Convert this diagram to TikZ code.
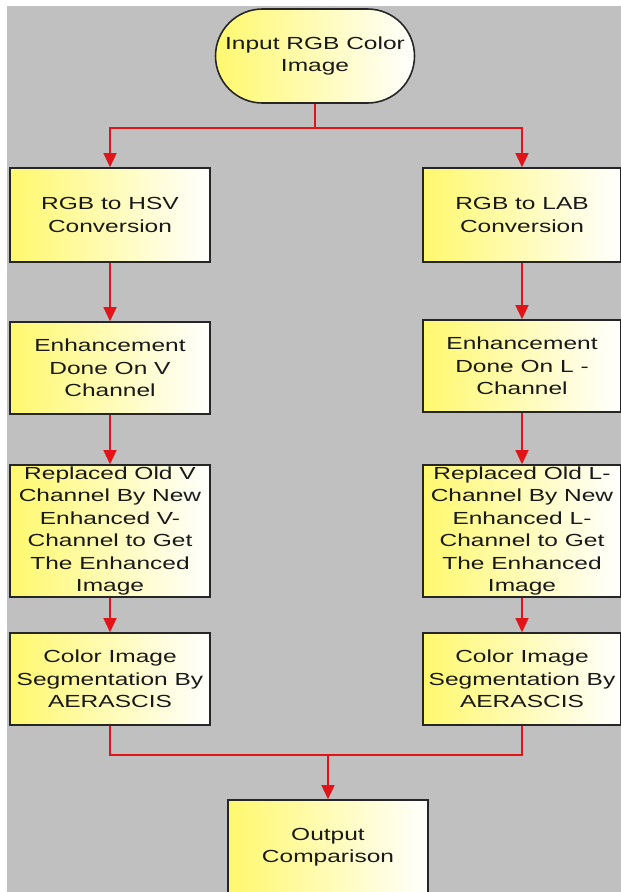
\documentclass[tikz,border=0pt]{standalone}
\usepackage{fontspec}
\setmainfont{Liberation Sans}[FakeStretch=1.4]
\usetikzlibrary{arrows.meta,shapes.misc}

\definecolor{panelgrey}{RGB}{192,192,192}
\definecolor{boxyellow}{RGB}{255,248,110}
\definecolor{flowred}{RGB}{225,20,25}

\begin{document}
\begin{tikzpicture}[x=1pt,y=-1pt,
	stepbox/.style={draw=black!85,line width=1.6pt,left color=boxyellow,right color=white,
	  minimum width=200pt,align=center,inner sep=0pt,text=black!90,
	  font=\fontsize{17.5}{22.5}\selectfont},
	startbox/.style={stepbox,rounded rectangle,minimum width=199pt,minimum height=94pt},
	flow/.style={flowred,line width=1.3pt},
	flowarrow/.style={flow,-{Triangle[width=13pt,length=14pt]}}]

	\clip (0,0) rectangle (621,892);
	\fill[white] (0,0) rectangle (621,892);
	\fill[panelgrey] (7,6) rectangle (621,892);

	% start
	\node[startbox] (start) at (315,56) {Input RGB Color\\Image};

	% left column
	\node[stepbox,minimum height=94pt] (hsv) at (110,215) {RGB to HSV\\Conversion};
	\node[stepbox,minimum height=92pt] (enhv) at (110,368) {Enhancement\\Done On V\\Channel};
	\node[stepbox,minimum height=132pt] (repv) at (110,531) {Replaced Old V\\Channel By New\\Enhanced V-\\Channel to Get\\The Enhanced\\Image};
	\node[stepbox,minimum height=92pt] (segv) at (110,679) {Color Image\\Segmentation By\\AERASCIS};

	% right column
	\node[stepbox,minimum width=198pt,minimum height=94pt] (lab) at (522,215) {RGB to LAB\\Conversion};
	\node[stepbox,minimum width=198pt,minimum height=92pt] (enhl) at (522,366) {Enhancement\\Done On L -\\Channel};
	\node[stepbox,minimum width=198pt,minimum height=132pt] (repl) at (522,531) {Replaced Old L-\\Channel By New\\Enhanced L-\\Channel to Get\\The Enhanced\\Image};
	\node[stepbox,minimum width=198pt,minimum height=92pt] (segl) at (522,679) {Color Image\\Segmentation By\\AERASCIS};

	% end
	\node[stepbox,minimum height=94pt] (out) at (328,847) {Output\\Comparison};

	\coordinate (split) at (315,128);
	\coordinate (join) at (328,755);

	% connectors
	\draw[flow] (start.south) -- (split);
	\draw[flowarrow] (split) -| (hsv.north);
	\draw[flowarrow] (split) -| (lab.north);
	\draw[flowarrow] (hsv) -- (enhv);
	\draw[flowarrow] (enhv) -- (repv);
	\draw[flowarrow] (repv) -- (segv);
	\draw[flowarrow] (lab) -- (enhl);
	\draw[flowarrow] (enhl) -- (repl);
	\draw[flowarrow] (repl) -- (segl);
	\draw[flow] (segv.south) |- (join);
	\draw[flow] (segl.south) |- (join);
	\draw[flowarrow] (join) -- (out.north);

\end{tikzpicture}
\end{document}
